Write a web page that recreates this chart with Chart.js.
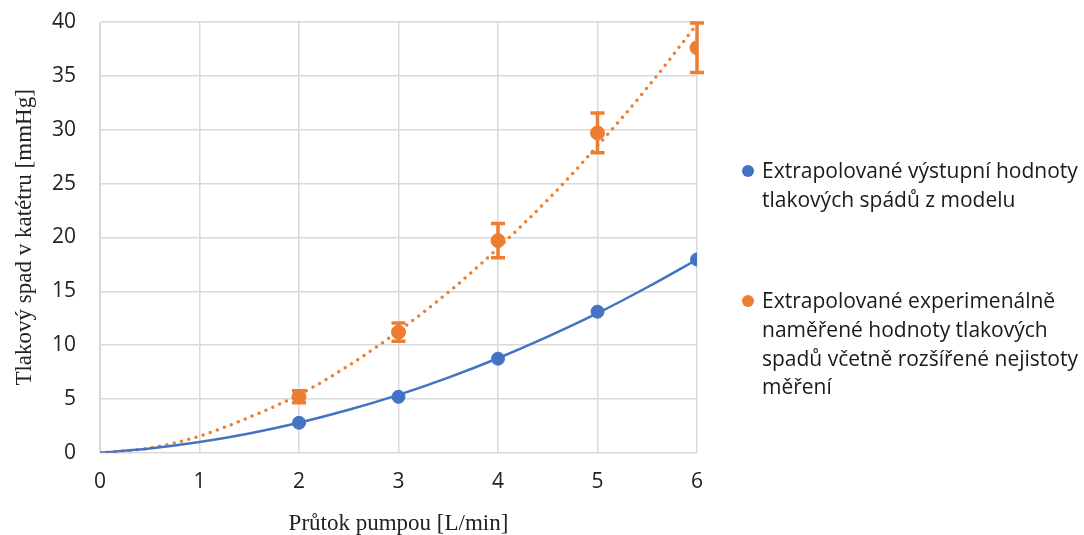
<!DOCTYPE html>
<html>
<head>
<meta charset="utf-8">
<script src="https://cdn.jsdelivr.net/npm/chart.js@4"></script>
<style>
  body { margin: 0; background: #fff; }
  #wrap { position: relative; width: 1084px; height: 535px; }
  #legenda { position: absolute; left: 742px; top: 0; font-family: "Open Sans", "Noto Sans", sans-serif; font-size: 21px; color: #1a1a1a; line-height: 28.8px; }
  .polozka { position: absolute; left: 0; padding-left: 20px; white-space: nowrap; }
  .tecka { position: absolute; left: 0; top: 9px; width: 12px; height: 12px; border-radius: 50%; }
</style>
</head>
<body>
<div id="wrap">
  <canvas id="graf" width="1084" height="535"></canvas>
  <div id="legenda">
    <div class="polozka" style="top:156px"><span class="tecka" style="background:#4472c4"></span>Extrapolované výstupní hodnoty<br>tlakových spádů z modelu</div>
    <div class="polozka" style="top:286px"><span class="tecka" style="background:#ed7d31"></span>Extrapolované experimenálně<br>naměřené hodnoty tlakových<br>spadů včetně rozšířené nejistoty<br>měření</div>
  </div>
</div>
<script>
const prutok = [2, 3, 4, 5, 6];
const model = [2.79, 5.2, 8.74, 13.1, 17.95];
const experiment = [5.2, 11.2, 19.7, 29.7, 37.6];
const nejistota = [0.55, 0.85, 1.6, 1.85, 2.3];

// hodnoty spojnic trendu
const trendX = [0, 0.5, 1, 1.5, 2, 2.5, 3, 3.5, 4, 4.5, 5, 5.5, 6];
const trendModel = [0, 0.4, 1.0, 1.8, 2.79, 3.99, 5.38, 6.98, 8.78, 10.78, 12.96, 15.37, 17.95];
const trendExperiment = [0, 0.45, 1.55, 3.3, 5.4, 8.1, 11.3, 14.9, 19.0, 23.5, 28.5, 33.9, 39.8];

const body = (xs, ys) => xs.map((x, i) => ({ x: x, y: ys[i] }));

const chybovky = {
  id: "chybovky",
  afterDatasetsDraw(chart) {
    const ctx = chart.ctx;
    const sx = chart.scales.x, sy = chart.scales.y;
    ctx.save();
    ctx.strokeStyle = "#ed7d31";
    ctx.lineWidth = 3.5;
    prutok.forEach((x, i) => {
      const px = sx.getPixelForValue(x);
      const top = sy.getPixelForValue(experiment[i] + nejistota[i]);
      const bot = sy.getPixelForValue(experiment[i] - nejistota[i]);
      ctx.beginPath();
      ctx.moveTo(px, top); ctx.lineTo(px, bot);
      ctx.moveTo(px - 7, top); ctx.lineTo(px + 7, top);
      ctx.moveTo(px - 7, bot); ctx.lineTo(px + 7, bot);
      ctx.stroke();
    });
    ctx.restore();
  }
};

new Chart(document.getElementById("graf"), {
  type: "scatter",
  data: {
    datasets: [
      {
        data: body(trendX, trendModel),
        showLine: true, borderColor: "#4472c4", borderWidth: 2.5,
        pointRadius: 0, tension: 0.4, cubicInterpolationMode: "monotone"
      },
      {
        data: body(trendX, trendExperiment),
        showLine: true, borderColor: "#ed7d31", borderWidth: 3.5,
        borderDash: [0, 7.5], borderCapStyle: "round",
        pointRadius: 0, tension: 0.4, cubicInterpolationMode: "monotone"
      },
      {
        data: body(prutok, model),
        backgroundColor: "#4472c4", borderColor: "#4472c4",
        pointRadius: 6.5
      },
      {
        data: body(prutok, experiment),
        backgroundColor: "#ed7d31", borderColor: "#ed7d31",
        pointRadius: 7
      }
    ]
  },
  options: {
    responsive: false,
    animation: false,
    layout: { autoPadding: false, padding: { left: 11, right: 387, top: 22, bottom: 0 } },
    plugins: { legend: { display: false }, tooltip: { enabled: false } },
    scales: {
      x: {
        type: "linear", min: 0, max: 6,
        ticks: { stepSize: 1, color: "#222", font: { family: "Open Sans", size: 21 }, padding: 17 },
        grid: { color: "#d9d9d9", lineWidth: 1.5, drawTicks: false },
        border: { color: "#d9d9d9" },
        title: { display: true, text: "Průtok pumpou [L/min]", color: "#222", font: { family: "Liberation Serif", size: 23, lineHeight: 1.0 }, padding: { top: 0, bottom: 0 } }
      },
      y: {
        min: 0, max: 40,
        afterFit(scale) { scale.width = 89; },
        ticks: { stepSize: 5, color: "#222", font: { family: "Open Sans", size: 21 }, padding: 9 },
        // neviditelné značky, jen kvůli odsazení popisků od osy
        grid: { color: "#d9d9d9", lineWidth: 1.5, drawTicks: true, tickLength: 15, tickColor: "rgba(0,0,0,0)" },
        border: { color: "#d9d9d9" },
        title: { display: true, text: "Tlakový spad v katétru [mmHg]", color: "#222", font: { family: "Liberation Serif", size: 23 }, padding: { top: 0, bottom: 0 } }
      }
    }
  },
  plugins: [chybovky]
});
</script>
</body>
</html>
